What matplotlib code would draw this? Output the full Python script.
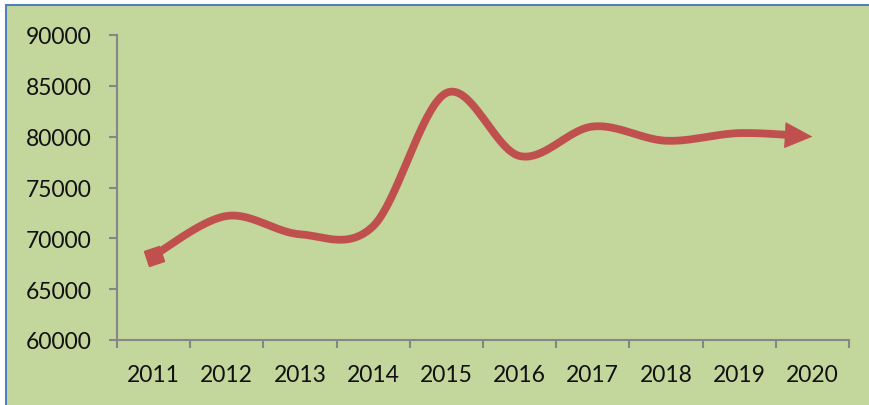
import numpy as np
import matplotlib
matplotlib.use("Agg")
import matplotlib.pyplot as plt
from matplotlib.markers import MarkerStyle
from matplotlib.transforms import Affine2D
from matplotlib.patches import Rectangle

years = ['2011', '2012', '2013', '2014', '2015', '2016', '2017', '2018', '2019', '2020']
values = [68300, 72200, 70400, 71200, 84300, 78100, 81000, 79600, 80350, 80000]
y_ticks = [60000, 65000, 70000, 75000, 80000, 85000, 90000]

bg = '#C3D69B'
red = '#C0504D'
gray = '#868686'

plt.rcParams['font.family'] = ['Lato', 'DejaVu Sans']


def excel_smooth(xs, ys, steps=40):
    # bezier smoothing like excel's "smoothed line"
    p = np.column_stack([xs, ys]).astype(float)
    n = len(p)
    out = []
    for i in range(n - 1):
        prev = p[i - 1] if i > 0 else p[i]
        nxt = p[i + 2] if i + 2 < n else p[i + 1]
        c1 = p[i] + (p[i + 1] - prev) / 6
        c2 = p[i + 1] - (nxt - p[i]) / 6
        t = np.linspace(0, 1, steps)[:, None]
        seg = ((1 - t) ** 3 * p[i] + 3 * (1 - t) ** 2 * t * c1
               + 3 * (1 - t) * t ** 2 * c2 + t ** 3 * p[i + 1])
        out.append(seg if i == 0 else seg[1:])
    return np.vstack(out)


fig = plt.figure(figsize=(8.69, 4.06), dpi=100)
fig.patch.set_facecolor('white')
fig.patches.append(Rectangle((6 / 869, -0.05), 1.1, 1.05 - 6 / 406, transform=fig.transFigure,
                             facecolor=bg, edgecolor='#4F81BD', linewidth=1.5, zorder=-10))

ax = fig.add_axes([117 / 869, 65 / 406, 732 / 869, 305 / 406])
ax.set_facecolor('none')
ax.set_xlim(-0.5, len(years) - 0.5)
ax.set_ylim(60000, 90000)

x = np.arange(len(years))
curve = excel_smooth(x, values)
keep = curve[:, 0] <= x[-1] - 0.3
ax.plot(curve[keep, 0], curve[keep, 1], color=red, lw=5.6,
        solid_capstyle='butt', solid_joinstyle='round', zorder=3)

# arrow head at the end
ax.annotate('', xy=(x[-1], values[-1]), xytext=(x[-1] - 0.4, curve[keep][-1, 1]),
            arrowprops=dict(arrowstyle='-|>,head_length=19,head_width=9',
                            mutation_scale=1, color=red, lw=0.5,
                            shrinkA=0, shrinkB=0), zorder=4)

# square at the start, turned along the line
d0 = ax.transData.transform([x[0], values[0]])
d1 = ax.transData.transform(curve[3])
ang = np.degrees(np.arctan2(d1[1] - d0[1], d1[0] - d0[0]))
ax.plot([x[0]], [values[0]], linestyle='none', color=red,
        marker=MarkerStyle('s', transform=Affine2D().rotate_deg(ang * 0.6)),
        markersize=11.5, zorder=4)

for s in ['top', 'right']:
    ax.spines[s].set_visible(False)
for s in ['left', 'bottom']:
    ax.spines[s].set_color(gray)
    ax.spines[s].set_linewidth(1.5)

ax.set_yticks(y_ticks)
ax.set_yticklabels([str(v) for v in y_ticks])
ax.set_xticks(np.arange(-0.5, len(years), 1.0))
ax.set_xticklabels([])
ax.set_xticks(x, minor=True)
ax.set_xticklabels(years, minor=True)
ax.tick_params(axis='y', direction='out', length=6, width=1.5, color=gray,
               labelsize=16.5, pad=12)
ax.tick_params(axis='x', which='major', direction='out', length=6, width=1.5, color=gray)
ax.tick_params(axis='x', which='minor', length=0, labelsize=16.5, pad=17)
for lab in ax.get_yticklabels() + ax.get_xticklabels(minor=True):
    lab.set_color('#111111')

fig.savefig('out.png', dpi=100, facecolor=fig.get_facecolor())
